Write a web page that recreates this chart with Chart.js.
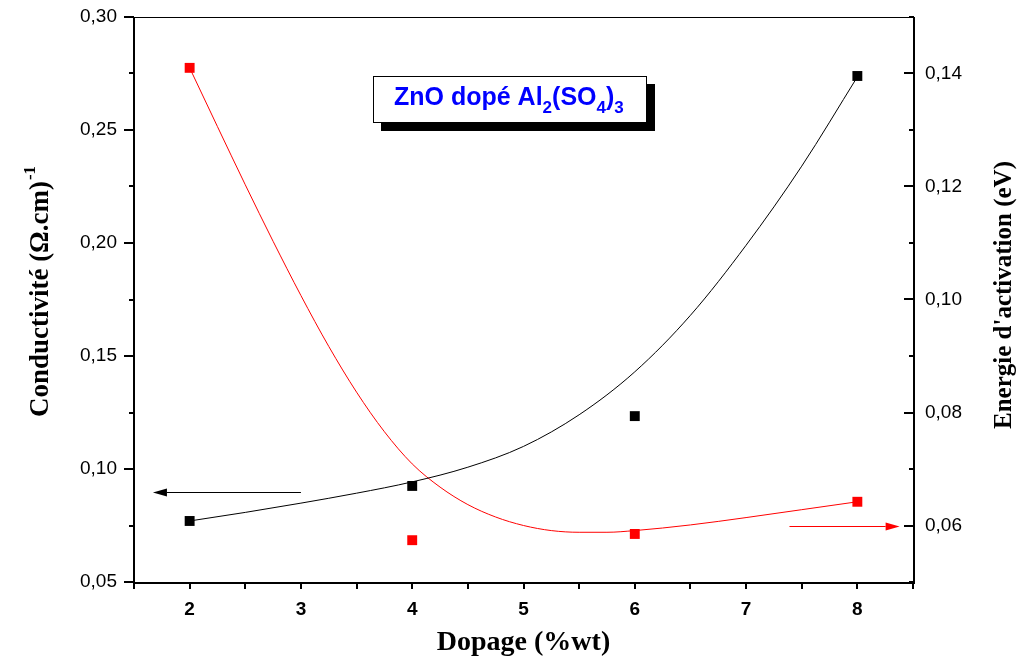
<!DOCTYPE html>
<html>
<head>
<meta charset="utf-8">
<script src="https://cdn.jsdelivr.net/npm/chart.js@4.4.1/dist/chart.umd.min.js"></script>
<style>
  html, body { margin: 0; padding: 0; background: #fff; overflow: hidden; }
  canvas { display: block; }
</style>
</head>
<body>
<canvas id="c" width="1021" height="659"></canvas>
<script>
// Doping levels of the measured films (%wt)
const dopage = [2, 4, 6, 8];
// Conductivité (Ω.cm)^-1 — left axis
const conductivite = [0.0770, 0.0925, 0.1234, 0.2739];
// Energie d'activation (eV) — right axis
const energie = [0.1410, 0.0574, 0.0585, 0.0642];

// Fitted curve through the conductivity points
const fitCondX = [2, 2.5, 3, 3.5, 4, 4.5, 5, 5.5, 6, 6.5, 7, 7.5, 8];
const fitCondY = [0.0770, 0.0808, 0.0849, 0.0893, 0.0943, 0.1008, 0.1100, 0.1240, 0.1430, 0.1680, 0.1990, 0.2340, 0.2735];
// Fitted curve through the activation-energy points
const fitEnerX = [2, 2.25, 2.5, 2.75, 3, 3.25, 3.5, 3.75, 4, 4.25, 4.5, 4.75, 5, 5.25, 5.5, 5.75, 6, 6.5, 7, 7.5, 8];
const fitEnerY = [0.1410, 0.1306, 0.1203, 0.1103, 0.1007, 0.0917, 0.0836, 0.0766, 0.0709, 0.0668, 0.0637, 0.0615, 0.0600, 0.0591, 0.0588, 0.0588, 0.0591, 0.0601, 0.0614, 0.0628, 0.0642];

// Tick labels
const xTicks = [2, 3, 4, 5, 6, 7, 8];
const yTicks = [0.05, 0.10, 0.15, 0.20, 0.25, 0.30];
const y1Ticks = [0.06, 0.08, 0.10, 0.12, 0.14];

// Arrows telling which axis each curve belongs to (data units)
const arrowCond = { from: 3.0, to: 1.67, y: 0.090 };
const arrowEner = { from: 7.39, to: 8.38, y: 0.060 };

const fmt = v => v.toFixed(2).replace('.', ',');
const pts = (xs, ys) => xs.map((x, i) => ({ x, y: ys[i] }));

const SANS = '"Liberation Sans", Arial, sans-serif';
const SERIF = '"Liberation Serif", "Times New Roman", serif';

// keep the plot frame fixed: no extra room reserved for overhanging labels
const noOverhang = s => {
  s.paddingTop = 0; s.paddingBottom = 0; s.paddingLeft = 0; s.paddingRight = 0;
};

function arrow(ctx, x0, x1, y, color, headLen, headHalf) {
  const dir = Math.sign(x1 - x0);
  ctx.strokeStyle = color;
  ctx.fillStyle = color;
  ctx.lineWidth = 1;
  ctx.beginPath();
  ctx.moveTo(x0, y + 0.5);
  ctx.lineTo(x1 - dir * headLen, y + 0.5);
  ctx.stroke();
  ctx.beginPath();
  ctx.moveTo(x1, y + 0.5);
  ctx.lineTo(x1 - dir * headLen, y + 0.5 - headHalf);
  ctx.lineTo(x1 - dir * headLen, y + 0.5 + headHalf);
  ctx.closePath();
  ctx.fill();
}

const framePlugin = {
  id: 'frame',
  afterDraw(chart) {
    const { ctx, chartArea: a, scales: { x, y, y1 } } = chart;
    ctx.save();
    ctx.strokeStyle = '#000';

    // top border
    ctx.lineWidth = 1;
    ctx.beginPath();
    ctx.moveTo(a.left, a.top + 0.5);
    ctx.lineTo(a.right + 1, a.top + 0.5);
    ctx.stroke();

    // left, bottom, right axis lines
    ctx.lineWidth = 2;
    ctx.beginPath();
    ctx.moveTo(a.left, a.top);
    ctx.lineTo(a.left, a.bottom + 1);
    ctx.lineTo(a.right + 1, a.bottom + 1);
    ctx.lineTo(a.right + 1, a.top);
    ctx.stroke();

    // left axis ticks (outward)
    for (let k = 0; k <= 10; k++) {
      const v = 0.05 + k * 0.025;
      const py = Math.round(y.getPixelForValue(v));
      const len = k % 2 === 0 ? 10 : 5;
      ctx.beginPath();
      ctx.moveTo(a.left - len, py);
      ctx.lineTo(a.left, py);
      ctx.stroke();
    }
    // right axis ticks (inward)
    for (let k = 0; k <= 10; k++) {
      const v = 0.05 + k * 0.01;
      const py = Math.round(y1.getPixelForValue(v));
      const len = k % 2 === 1 ? 10 : 5;
      ctx.beginPath();
      ctx.moveTo(a.right + 1 - len, py);
      ctx.lineTo(a.right + 1, py);
      ctx.stroke();
    }
    // bottom ticks (outward)
    for (let k = 0; k <= 14; k++) {
      const v = 1.5 + k * 0.5;
      const px = Math.round(x.getPixelForValue(v));
      ctx.beginPath();
      ctx.moveTo(px, a.bottom + 1);
      ctx.lineTo(px, a.bottom + 7);
      ctx.stroke();
    }

    // direction arrows
    arrow(ctx, x.getPixelForValue(arrowCond.from), x.getPixelForValue(arrowCond.to),
          Math.round(y.getPixelForValue(arrowCond.y)), '#000', 14, 4);
    arrow(ctx, x.getPixelForValue(arrowEner.from), x.getPixelForValue(arrowEner.to),
          Math.round(y1.getPixelForValue(arrowEner.y)), '#ff0000', 14, 4);

    // axis titles
    ctx.fillStyle = '#000';
    ctx.textBaseline = 'alphabetic';
    ctx.font = 'bold 28px ' + SERIF;
    ctx.textAlign = 'center';
    ctx.fillText('Dopage (%wt)', (a.left + a.right) / 2, 650);

    // left title with superscript
    ctx.save();
    ctx.translate(48, 292);
    ctx.rotate(-Math.PI / 2);
    ctx.font = 'bold 27px ' + SERIF;
    const main = 'Conductivité (Ω.cm)';
    const wMain = ctx.measureText(main).width;
    ctx.font = 'bold 17px ' + SERIF;
    const sup = '-1';
    const wSup = ctx.measureText(sup).width;
    const start = -(wMain + wSup) / 2;
    ctx.textAlign = 'left';
    ctx.font = 'bold 27px ' + SERIF;
    ctx.fillText(main, start, 0);
    ctx.font = 'bold 17px ' + SERIF;
    ctx.fillText(sup, start + wMain + 1, -13);
    ctx.restore();

    // right title
    ctx.save();
    ctx.translate(1011, 295);
    ctx.rotate(-Math.PI / 2);
    ctx.font = 'bold 25px ' + SERIF;
    ctx.textAlign = 'center';
    ctx.fillText("Energie d'activation (eV)", 0, 0);
    ctx.restore();

    // caption box with drop shadow
    const bx = 373, by = 76, bw = 274, bh = 47;
    ctx.fillStyle = '#000';
    ctx.fillRect(bx + 8, by + 8, bw, bh);
    ctx.fillStyle = '#fff';
    ctx.fillRect(bx, by, bw, bh);
    ctx.lineWidth = 1;
    ctx.strokeStyle = '#000';
    ctx.strokeRect(bx + 0.5, by + 0.5, bw - 1, bh - 1);

    const parts = [
      ['ZnO dopé Al', 0], ['2', 1], ['(SO', 0], ['4', 1], [')', 0], ['3', 1]
    ];
    let tx = 394;
    ctx.fillStyle = '#0000ff';
    ctx.textAlign = 'left';
    for (const [t, sub] of parts) {
      ctx.font = sub ? 'bold 17px ' + SANS : 'bold 25px ' + SANS;
      ctx.fillText(t, tx, sub ? 113 : 105);
      tx += ctx.measureText(t).width;
    }
    ctx.restore();
  }
};

new Chart(document.getElementById('c'), {
  type: 'scatter',
  data: {
    datasets: [
      {
        data: pts(dopage, conductivite), yAxisID: 'y',
        pointStyle: 'rect', pointRadius: 7, backgroundColor: '#000', borderWidth: 0, order: 0
      },
      {
        data: pts(dopage, energie), yAxisID: 'y1',
        pointStyle: 'rect', pointRadius: 7, backgroundColor: '#ff0000', borderWidth: 0, order: 0
      },
      {
        data: pts(fitCondX, fitCondY), yAxisID: 'y', showLine: true, pointRadius: 0,
        borderColor: '#000', borderWidth: 1, cubicInterpolationMode: 'monotone', order: 1
      },
      {
        data: pts(fitEnerX, fitEnerY), yAxisID: 'y1', showLine: true, pointRadius: 0,
        borderColor: '#ff0000', borderWidth: 1, cubicInterpolationMode: 'monotone', order: 1
      }
    ]
  },
  options: {
    responsive: false,
    animation: false,
    devicePixelRatio: 1,
    layout: { padding: { top: 17, left: 0, right: 0, bottom: 0 } },
    plugins: { legend: { display: false }, tooltip: { enabled: false } },
    scales: {
      x: {
        type: 'linear', min: 1.5, max: 8.5,
        afterBuildTicks: s => { s.ticks = xTicks.map(v => ({ value: v })); },
        afterFit: s => { s.height = 77; noOverhang(s); },
        grid: { display: false, drawTicks: false },
        border: { display: false },
        ticks: {
          padding: 16, color: '#000', maxRotation: 0, autoSkip: false,
          font: { family: SANS, size: 19, weight: 'bold' },
          callback: v => String(v)
        }
      },
      y: {
        position: 'left', min: 0.05, max: 0.30,
        afterBuildTicks: s => { s.ticks = yTicks.map(v => ({ value: v })); },
        afterFit: s => { s.width = 134; noOverhang(s); },
        grid: { display: false, drawTicks: false },
        border: { display: false },
        ticks: {
          padding: 17, color: '#000', autoSkip: false,
          font: { family: SANS, size: 19 },
          callback: v => fmt(v)
        }
      },
      y1: {
        position: 'right', min: 0.05, max: 0.15,
        afterBuildTicks: s => { s.ticks = y1Ticks.map(v => ({ value: v })); },
        afterFit: s => { s.width = 108; noOverhang(s); },
        grid: { display: false, drawTicks: false },
        border: { display: false },
        ticks: {
          padding: 12, color: '#000', autoSkip: false,
          font: { family: SANS, size: 19 },
          callback: v => fmt(v)
        }
      }
    }
  },
  plugins: [framePlugin]
});
</script>
</body>
</html>
